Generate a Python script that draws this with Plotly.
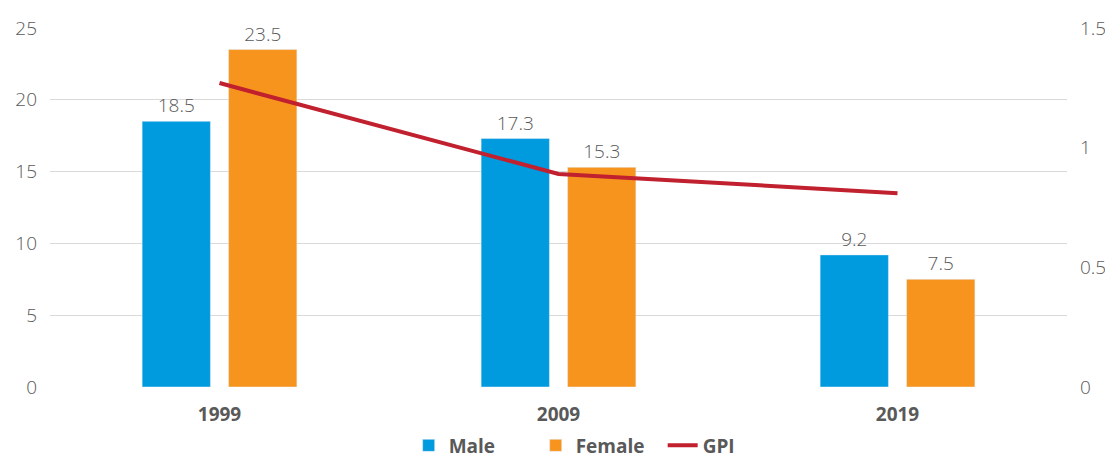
import plotly.graph_objects as go

years = ["1999", "2009", "2019"]
male = [18.5, 17.3, 9.2]
female = [23.5, 15.3, 7.5]
gpi = [1.27, 0.89, 0.81]

left_ticks = [0, 5, 10, 15, 20, 25]
right_ticks = [0, 0.5, 1, 1.5]

LIGHT = dict(family="Open Sans", size=19, color="#595959", weight=300)

fig = go.Figure()

fig.add_trace(
    go.Bar(
        x=years,
        y=male,
        name="Male",
        marker=dict(color="#009ADE"),
        text=[f"{v:.1f}" for v in male],
        textposition="outside",
        textfont=LIGHT,
        cliponaxis=False,
    )
)

fig.add_trace(
    go.Bar(
        x=years,
        y=female,
        name="Female",
        marker=dict(color="#F7941D"),
        text=[f"{v:.1f}" for v in female],
        textposition="outside",
        textfont=LIGHT,
        cliponaxis=False,
    )
)

fig.add_trace(
    go.Scatter(
        x=years,
        y=gpi,
        name="GPI",
        mode="lines",
        line=dict(color="#C1202F", width=4),
        yaxis="y2",
    )
)

# page body has an 8px margin, so the figure is sized to fit inside the window
fig.update_layout(
    width=1105,
    height=453,
    plot_bgcolor="white",
    paper_bgcolor="white",
    barmode="group",
    bargap=0.49,
    bargroupgap=0.21,
    margin=dict(l=42, r=46, t=20, b=74, autoexpand=False),
    xaxis=dict(
        showgrid=False,
        showline=False,
        tickfont=dict(family="Open Sans", size=19, color="#595959", weight=700),
        ticks="",
        ticklabelstandoff=14,
        automargin=False,
    ),
    yaxis=dict(
        range=[0, 25],
        tickvals=left_ticks,
        showgrid=True,
        gridcolor="#D9D9D9",
        gridwidth=1,
        zeroline=False,
        tickfont=LIGHT,
        ticks="",
        ticklabelstandoff=12,
        automargin=False,
    ),
    yaxis2=dict(
        overlaying="y",
        side="right",
        range=[0, 1.5],
        tickvals=right_ticks,
        ticktext=["0", "0.5", "1", "1.5"],
        showgrid=False,
        zeroline=False,
        tickfont=LIGHT,
        ticks="",
        ticklabelstandoff=12,
        automargin=False,
    ),
    legend=dict(
        orientation="h",
        x=0.535,
        xanchor="center",
        xref="container",
        y=-0.163,
        yanchor="middle",
        yref="paper",
        font=dict(family="Open Sans", size=19, color="#595959", weight=700),
        itemwidth=30,
        traceorder="normal",
        entrywidth=82,
    ),
    showlegend=True,
)

fig.write_html("out.html")
